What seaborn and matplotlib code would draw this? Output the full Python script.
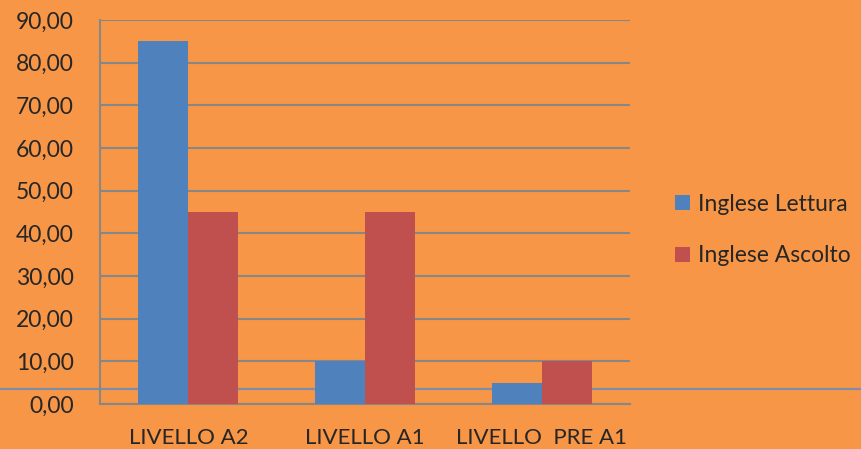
import pandas as pd
import matplotlib
matplotlib.use("Agg")
import matplotlib.pyplot as plt
from matplotlib.lines import Line2D
from matplotlib.patches import Patch
import seaborn as sns

# Data
livelli = ["LIVELLO A2", "LIVELLO A1", "LIVELLO  PRE A1"]
lettura = [85, 10, 5]
ascolto = [45, 45, 10]
serie = ["Inglese Lettura", "Inglese Ascolto"]

df = pd.DataFrame({
    "Livello": livelli * 2,
    "Valore": lettura + ascolto,
    "Serie": [serie[0]] * 3 + [serie[1]] * 3,
})

sns.set_style("white")
plt.rcParams['font.family'] = ['Lato', 'DejaVu Sans']

orange = "#F79646"
colors = ["#4F81BD", "#C0504D"]
grid_c = "#878787"

fig = plt.figure(figsize=(8.61, 4.49), dpi=100, facecolor=orange)
ax = fig.add_axes([100 / 861, 1 - 404 / 449, 530 / 861, 384 / 449])
ax.patch.set_alpha(0)

# odd line across the whole figure
fig.add_artist(Line2D([0, 1], [1 - 389 / 449] * 2, color="#7E8DA8", lw=1.6, zorder=-5))

sns.barplot(data=df, x="Livello", y="Valore", hue="Serie", palette=colors,
            width=0.566, saturation=1, edgecolor="none", ax=ax, legend=False, zorder=3)

ax.set_ylim(0, 90)
ax.set_xlim(-0.5, 2.5)
ax.set_yticks(range(0, 91, 10))
ax.set_yticklabels([f"{v},00" for v in range(0, 91, 10)], fontsize=16.5)
ax.set_xticks(range(3))
ax.set_xticklabels(livelli, fontsize=16)
ax.set_xticks([-0.5, 0.5, 1.5, 2.5], minor=True)
ax.tick_params(axis="x", which="major", length=0, pad=17)
ax.tick_params(axis="x", which="minor", length=6, width=1.5, color=grid_c, direction="out")
ax.tick_params(axis="y", length=6, width=1.5, color=grid_c, direction="out", pad=13)
ax.yaxis.grid(True, color=grid_c, lw=1.5, zorder=0)
ax.set_axisbelow(True)
ax.set_xlabel("")
ax.set_ylabel("")
for s in ["top", "right"]:
    ax.spines[s].set_visible(False)
for s in ["left", "bottom"]:
    ax.spines[s].set_color(grid_c)
    ax.spines[s].set_linewidth(1.5)

handles = [Patch(facecolor=c, edgecolor="none") for c in colors]
fig.legend(handles, serie, loc="center left", bbox_to_anchor=(654 / 861, 1 - 230 / 449),
           frameon=False, fontsize=16.5, handlelength=0.65, handleheight=0.65,
           handletextpad=0.35, labelspacing=1.35)

fig.savefig("out.png", dpi=100, facecolor=orange)
